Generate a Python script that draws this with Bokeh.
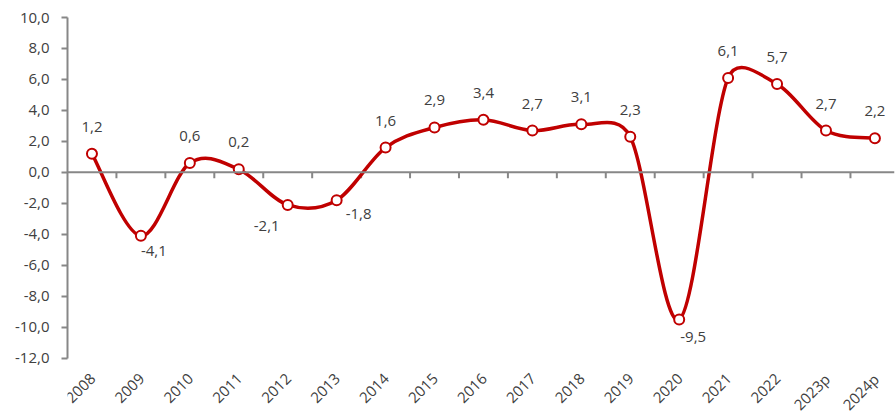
import math
from bokeh.plotting import figure
from bokeh.models import ColumnDataSource, FixedTicker, Range1d, Span
from bokeh.core.properties import value
from bokeh.embed import file_html
from bokeh.resources import INLINE

# ---- data ----
years = ["2008", "2009", "2010", "2011", "2012", "2013", "2014", "2015", "2016",
         "2017", "2018", "2019", "2020", "2021", "2022", "2023p", "2024p"]
growth = [1.2, -4.1, 0.6, 0.2, -2.1, -1.8, 1.6, 2.9, 3.4, 2.7, 3.1, 2.3, -9.5, 6.1, 5.7, 2.7, 2.2]
y_ticks = [-12, -10, -8, -6, -4, -2, 0, 2, 4, 6, 8, 10]
y_tick_labels = ["-12,0", "-10,0", "-8,0", "-6,0", "-4,0", "-2,0", "0,0", "2,0", "4,0", "6,0", "8,0", "10,0"]
label_place = ["above", "below_right", "above", "above", "below_left", "right_below",
               "above", "above", "above", "above", "above", "above", "below_right2",
               "above", "above", "above", "above"]

# ---- layout ----
W, H = 895, 416
BL, BR, BT, BB = 67, 1, 17, 0
X_END = 16.9
Y0, Y1 = -12, 10
AXIS_PX = 340.7                      # pixel height of the -12..10 axis
frame_w = W - BL - BR
frame_h = H - BT - BB
kx = frame_w / X_END
ky = AXIS_PX / (Y1 - Y0)
Y_START = Y1 - frame_h / ky          # room below the axis for the year labels

RED = "#C00000"
GREY = "#878787"
TXT = "#404040"
FONT = "Open Sans"

xs = [i + 0.5 for i in range(len(years))]

p = figure(width=W, height=H, output_backend="svg", toolbar_location=None,
           x_range=Range1d(0, X_END), y_range=Range1d(Y_START, Y1),
           x_axis_location=None,
           min_border_left=BL, min_border_right=BR, min_border_top=BT, min_border_bottom=BB)
p.outline_line_color = None
p.grid.visible = False
p.background_fill_color = "white"
p.border_fill_color = "white"

# y axis
ya = p.yaxis[0]
ya.ticker = FixedTicker(ticks=y_ticks)
ya.bounds = (Y0, Y1)
ya.major_label_overrides = {t: s for t, s in zip(y_ticks, y_tick_labels)}
ya.axis_line_color = GREY
ya.axis_line_width = 2
ya.major_tick_line_color = GREY
ya.major_tick_line_width = 2
ya.major_tick_out = 6
ya.major_tick_in = 0
ya.minor_tick_line_color = None
ya.major_label_standoff = 12
ya.major_label_text_font = FONT
ya.major_label_text_font_size = "15px"
ya.major_label_text_color = TXT

# category labels (rotated) below the axis
p.text(x=xs, y=[Y0] * len(xs), text=years, angle=math.pi / 4, y_offset=18, x_offset=1,
       text_align="right", text_baseline="middle",
       text_font=value(FONT), text_font_size="15px", text_color=TXT)

# zero line with category boundary ticks
p.add_layout(Span(location=0, dimension="width", line_color=GREY, line_width=2))
bounds = list(range(1, len(years)))
p.segment(x0=bounds, y0=[0] * len(bounds), x1=bounds, y1=[-6 / ky] * len(bounds),
          line_color=GREY, line_width=2)

# Excel-like smoothed line (Bezier segments computed in screen space)
P = [(x * kx, y * ky) for x, y in zip(xs, growth)]
n = len(P)
src = dict(x0=[], y0=[], x1=[], y1=[], cx0=[], cy0=[], cx1=[], cy1=[])
def dist(a, b):
    return math.hypot(a[0] - b[0], a[1] - b[1])
for i in range(n - 1):
    p0 = P[i - 1] if i > 0 else P[i]
    p1, p2 = P[i], P[i + 1]
    p3 = P[i + 2] if i + 2 < n else P[i + 1]
    d02, d12, d13 = dist(p0, p2), dist(p1, p2), dist(p1, p3)
    f1 = 1 / 6 if (d02 / 6 < d12 / 2 or d02 == 0) else d12 / (2 * d02)
    f2 = 1 / 6 if (d13 / 6 < d12 / 2 or d13 == 0) else d12 / (2 * d13)
    c1 = (p1[0] + f1 * (p2[0] - p0[0]), p1[1] + f1 * (p2[1] - p0[1]))
    c2 = (p2[0] - f2 * (p3[0] - p1[0]), p2[1] - f2 * (p3[1] - p1[1]))
    src["x0"].append(p1[0] / kx); src["y0"].append(p1[1] / ky)
    src["x1"].append(p2[0] / kx); src["y1"].append(p2[1] / ky)
    src["cx0"].append(c1[0] / kx); src["cy0"].append(c1[1] / ky)
    src["cx1"].append(c2[0] / kx); src["cy1"].append(c2[1] / ky)
p.bezier(x0="x0", y0="y0", x1="x1", y1="y1", cx0="cx0", cy0="cy0", cx1="cx1", cy1="cy1",
         source=ColumnDataSource(src), line_color=RED, line_width=3.5, line_cap="round")

# markers
p.scatter(xs, growth, size=10, fill_color="white", line_color=RED, line_width=2)

# data labels
offsets = {
    "above": (0, -27),
    "below_right": (13, 15),
    "below_left": (-21, 21),
    "right_below": (22, 14),
    "below_right2": (14, 18),
}
lab = ColumnDataSource(dict(
    x=xs, y=growth,
    t=[f"{v:.1f}".replace(".", ",") for v in growth],
    dx=[offsets[k][0] for k in label_place],
    dy=[offsets[k][1] for k in label_place],
))
p.text(x="x", y="y", text="t", x_offset="dx", y_offset="dy", source=lab,
       text_align="center", text_baseline="middle",
       text_font=value(FONT), text_font_size="15px", text_color=TXT)

open("out.html", "w").write(file_html(p, INLINE))
